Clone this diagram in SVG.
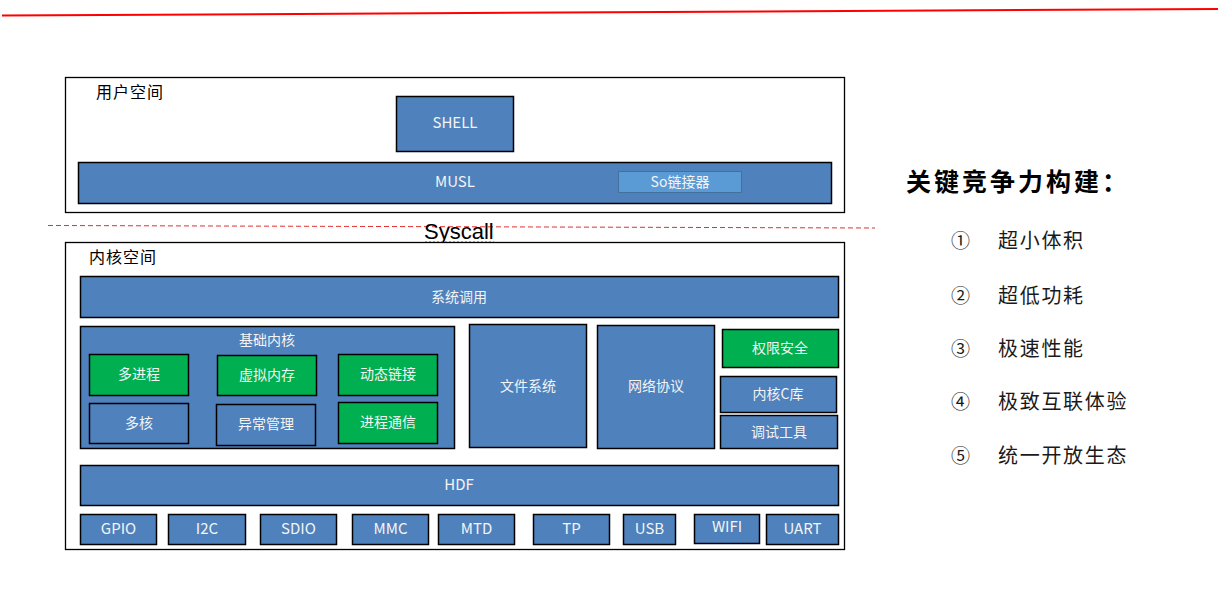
<svg xmlns="http://www.w3.org/2000/svg" width="1228" height="591" viewBox="0 0 1228 591">
<style>
.frame{fill:#ffffff;stroke:#000000;stroke-width:1.3}
.b{fill:#4F81BD;stroke:#000000;stroke-width:1.5}
.g{fill:#00B050;stroke:#000000;stroke-width:1.5}
.lt{fill:#F4F4F4;font-family:"Noto Sans CJK SC","Liberation Sans",sans-serif;font-size:14px;text-anchor:middle;dominant-baseline:central}
.la{fill:#F4F4F4;font-family:"Noto Sans CJK SC","Liberation Sans",sans-serif;font-size:15px;text-anchor:middle;dominant-baseline:central}
.sec{fill:#000000;font-family:"Noto Sans CJK SC",sans-serif;font-size:16px;letter-spacing:1px;dominant-baseline:central}
.item{fill:#1a1a1a;font-family:"Noto Sans CJK SC",sans-serif;font-size:20px;letter-spacing:1.7px;dominant-baseline:central}
.num{fill:#1a1a1a;font-family:"Noto Sans CJK SC",sans-serif;font-size:19px;dominant-baseline:central}
</style>
<rect width="1228" height="591" fill="#ffffff"/>
<g id="lines">
  <line x1="2" y1="15.5" x2="1218" y2="9" stroke="#FF0000" stroke-width="2"/>
</g>
<g id="user-space">
  <rect class="frame" x="65.5" y="77.5" width="779" height="135"/>
  <text class="sec" x="96" y="91">用户空间</text>
</g>
<g id="shell">
  <rect class="b" x="396.5" y="96.5" width="117" height="55"/>
  <text class="la" x="455" y="121.5">SHELL</text>
</g>
<g id="musl">
  <rect class="b" x="78.5" y="162.5" width="753" height="41"/>
  <text class="la" x="455" y="180.5">MUSL</text>
</g>
<g id="so-linker">
  <rect x="618.5" y="171.5" width="123" height="21" fill="#5B9BD5" stroke="#41719C" stroke-width="1"/>
  <text class="lt" x="680" y="181">So链接器</text>
</g>
<g id="syscall">
  <line x1="48" y1="225.5" x2="875" y2="228" stroke="#E03030" stroke-width="1" stroke-dasharray="5,3"/>
  <text x="424" y="238.5" font-family="Liberation Sans, sans-serif" font-size="22" fill="#000000">Syscall</text>
  <path d="M424 243 l2 -1.5 l2 1.5 l2 -1.5 l2 1.5 l2 -1.5 l2 1.5 l2 -1.5 l2 1.5 l2 -1.5 l2 1.5 l2 -1.5 l2 1.5 l2 -1.5 l2 1.5 l2 -1.5 l2 1.5 l2 -1.5 l2 1.5 l2 -1.5 l2 1.5 l2 -1.5 l2 1.5 l2 -1.5 l2 1.5 l2 -1.5 l2 1.5 l2 -1.5 l2 1.5 l2 -1.5 l2 1.5 l2 -1.5 l2 1.5 l2 -1.5 l2 1.5 l2 -1.5" fill="none" stroke="#E06666" stroke-width="1"/>
</g>
<g id="kernel-space">
  <rect class="frame" x="65.5" y="242.5" width="779" height="307"/>
  <text class="sec" x="89" y="256">内核空间</text>
</g>
<g id="syscall-layer">
  <rect class="b" x="80.5" y="276.5" width="758" height="41"/>
  <text class="lt" x="459" y="295.5">系统调用</text>
</g>
<g id="base-kernel">
  <rect class="b" x="80.5" y="326.5" width="374" height="122"/>
  <text class="lt" x="267" y="339" font-size="15">基础内核</text>
</g>
<g id="multi-process">
  <rect class="g" x="89.5" y="354.5" width="99" height="41"/>
  <text class="lt" x="139" y="373">多进程</text>
</g>
<g id="virtual-memory">
  <rect class="g" x="217.5" y="355.5" width="99" height="40"/>
  <text class="lt" x="267" y="373.5">虚拟内存</text>
</g>
<g id="dynamic-link">
  <rect class="g" x="338.5" y="354.5" width="99" height="41"/>
  <text class="lt" x="388" y="373">动态链接</text>
</g>
<g id="multi-core">
  <rect class="b" x="89.5" y="403.5" width="99" height="40"/>
  <text class="lt" x="139" y="421.5">多核</text>
</g>
<g id="exception">
  <rect class="b" x="216.5" y="404.5" width="99" height="41"/>
  <text class="lt" x="266" y="423">异常管理</text>
</g>
<g id="ipc">
  <rect class="g" x="338.5" y="402.5" width="99" height="41"/>
  <text class="lt" x="388" y="421">进程通信</text>
</g>
<g id="filesystem">
  <rect class="b" x="469.5" y="324.5" width="117" height="123"/>
  <text class="lt" x="528" y="384.5">文件系统</text>
</g>
<g id="network">
  <rect class="b" x="597.5" y="325.5" width="117" height="123"/>
  <text class="lt" x="656" y="385">网络协议</text>
</g>
<g id="security">
  <rect class="g" x="722.5" y="329.5" width="116" height="38"/>
  <text class="lt" x="780" y="347">权限安全</text>
</g>
<g id="kernel-libc">
  <rect class="b" x="720.5" y="376.5" width="116" height="36"/>
  <text class="lt" x="778" y="393">内核C库</text>
</g>
<g id="debug-tools">
  <rect class="b" x="720.5" y="415.5" width="117" height="33"/>
  <text class="lt" x="779" y="430.5">调试工具</text>
</g>
<g id="hdf">
  <rect class="b" x="80.5" y="465.5" width="758" height="40"/>
  <text class="la" x="459" y="483.5">HDF</text>
</g>
<g id="gpio"><rect class="b" x="80.5" y="514.5" width="76" height="30"/><text class="la" x="118.5" y="527">GPIO</text></g>
<g id="i2c"><rect class="b" x="168.5" y="514.5" width="77" height="30"/><text class="la" x="207" y="527">I2C</text></g>
<g id="sdio"><rect class="b" x="260.5" y="514.5" width="76" height="30"/><text class="la" x="298.5" y="527">SDIO</text></g>
<g id="mmc"><rect class="b" x="352.5" y="514.5" width="76" height="30"/><text class="la" x="390.5" y="527">MMC</text></g>
<g id="mtd"><rect class="b" x="438.5" y="514.5" width="76" height="30"/><text class="la" x="476.5" y="527">MTD</text></g>
<g id="tp"><rect class="b" x="533.5" y="514.5" width="76" height="30"/><text class="la" x="571.5" y="527">TP</text></g>
<g id="usb"><rect class="b" x="623.5" y="514.5" width="52" height="30"/><text class="la" x="649.5" y="527">USB</text></g>
<g id="wifi"><rect class="b" x="694.5" y="514.5" width="65" height="29"/><text class="la" x="727" y="525">WIFI</text></g>
<g id="uart"><rect class="b" x="766.5" y="514.5" width="72" height="30"/><text class="la" x="802.5" y="527">UART</text></g>
<g id="key-points">
  <text x="906" y="179.5" font-family="Noto Sans CJK SC, sans-serif" font-size="25" font-weight="bold" letter-spacing="3" dominant-baseline="central" fill="#000000">关键竞争力构建：</text>
  <text class="num" x="951" y="239">①</text><text class="item" x="998" y="239">超小体积</text>
  <text class="num" x="951" y="294">②</text><text class="item" x="998" y="294">超低功耗</text>
  <text class="num" x="951" y="347">③</text><text class="item" x="998" y="347">极速性能</text>
  <text class="num" x="951" y="400.5">④</text><text class="item" x="998" y="400.5">极致互联体验</text>
  <text class="num" x="951" y="454">⑤</text><text class="item" x="998" y="454">统一开放生态</text>
</g>
</svg>
